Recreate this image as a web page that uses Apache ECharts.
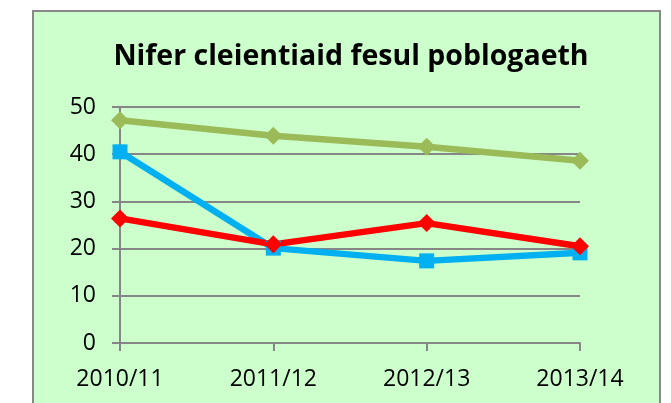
<!DOCTYPE html>
<html>
<head>
<meta charset="utf-8">
<script src="https://cdn.jsdelivr.net/npm/echarts@6/dist/echarts.min.js"></script>
<style>
  html, body { margin: 0; padding: 0; background: #ffffff; }
  #chart { width: 671px; height: 403px; }
</style>
</head>
<body>
<div id="chart"></div>
<script>
// chart data
const categories = ['2010/11', '2011/12', '2012/13', '2013/14'];
const blueValues = [40.5, 20.1, 17.4, 19.1];
const redValues = [26.4, 20.9, 25.4, 20.5];
const greenValues = [47.2, 43.9, 41.6, 38.6];

const fontFamily = "'Open Sans', 'Noto Sans', sans-serif";

const chart = echarts.init(document.getElementById('chart'));

chart.setOption({
    animation: false,
    textStyle: { fontFamily: fontFamily },
    graphic: [{
        type: 'rect',
        z: -10,
        shape: { x: 33, y: 11, width: 627, height: 410 },
        style: { fill: '#CCFFCC', stroke: '#888888', lineWidth: 2 }
    }],
    title: {
        text: 'Nifer cleientiaid fesul poblogaeth',
        left: 346,
        top: 37,
        textAlign: 'center',
        textStyle: {
            fontFamily: fontFamily,
            fontWeight: 'bold',
            fontSize: 28.5,
            color: '#000000'
        }
    },
    grid: {
        left: 120,
        right: 91,
        top: 107,
        bottom: 60,
        containLabel: false
    },
    xAxis: {
        type: 'category',
        data: categories,
        boundaryGap: false,
        axisLine: { lineStyle: { color: '#868686', width: 2 } },
        axisTick: { show: true, length: 8, lineStyle: { color: '#868686', width: 2 } },
        axisLabel: { color: '#000000', fontSize: 23, margin: 25 }
    },
    yAxis: {
        type: 'value',
        min: 0,
        max: 50,
        interval: 10,
        axisLine: { show: true, lineStyle: { color: '#868686', width: 2 } },
        axisTick: { show: true, length: 8, lineStyle: { color: '#868686', width: 2 } },
        axisLabel: { color: '#000000', fontSize: 23, margin: 24 },
        splitLine: { lineStyle: { color: '#868686', width: 2 } }
    },
    series: [
        {
            name: 'blue',
            type: 'line',
            data: blueValues,
            symbol: 'rect',
            symbolSize: 15,
            lineStyle: { color: '#00B0F0', width: 6.5 },
            itemStyle: { color: '#00B0F0' }
        },
        {
            name: 'red',
            type: 'line',
            data: redValues,
            symbol: 'diamond',
            symbolSize: 18,
            lineStyle: { color: '#FF0000', width: 6.5 },
            itemStyle: { color: '#FF0000' }
        },
        {
            name: 'green',
            type: 'line',
            data: greenValues,
            symbol: 'diamond',
            symbolSize: 18,
            lineStyle: { color: '#9BBB59', width: 6.5 },
            itemStyle: { color: '#9BBB59' }
        }
    ]
});
</script>
</body>
</html>
